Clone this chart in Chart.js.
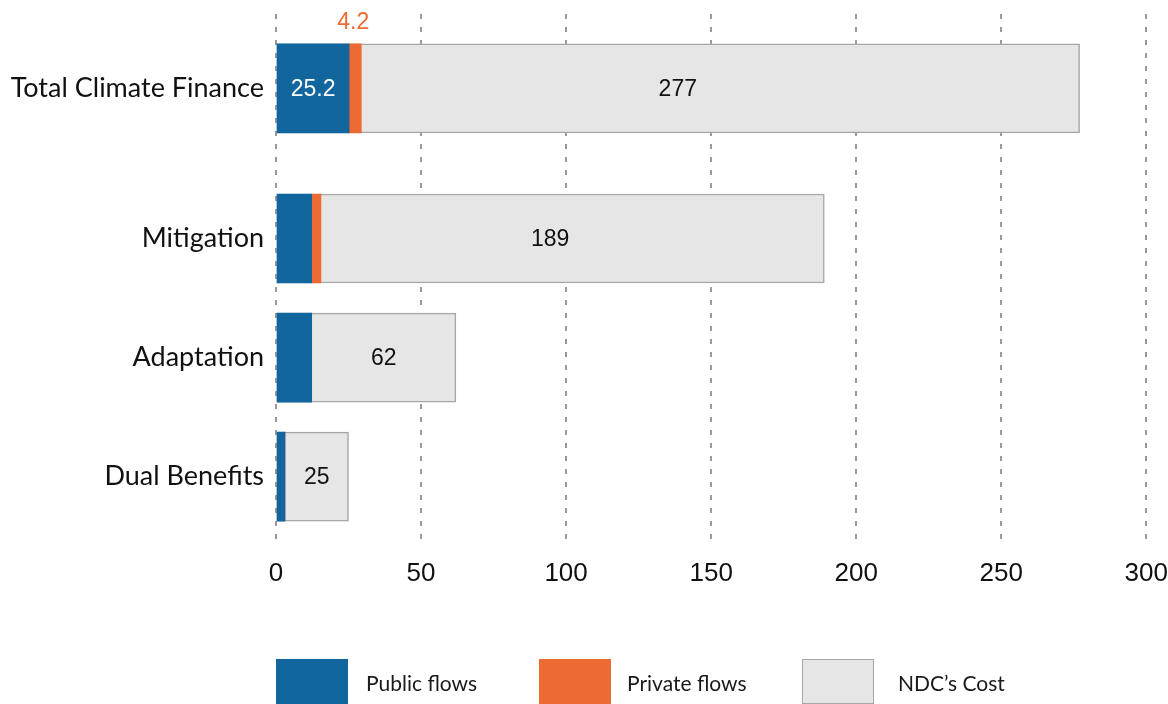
<!DOCTYPE html>
<html>
<head>
<meta charset="utf-8">
<script src="https://cdn.jsdelivr.net/npm/chart.js@4.4.1/dist/chart.umd.min.js"></script>
<style>
  html, body { margin: 0; padding: 0; background: #fff; }
  #wrap { position: relative; width: 1168px; height: 704px; overflow: hidden; }
  #chart { position: absolute; left: 0; top: 0; }
  .lg-box { position: absolute; top: 659px; width: 72px; height: 45px; box-sizing: border-box; }
  .lg-text { position: absolute; top: 670px; font-family: Lato, "Noto Sans", sans-serif; font-size: 21px; color: #1a1a1a; line-height: 26px; }
</style>
</head>
<body>
<div id="wrap">
  <canvas id="chart" width="1168" height="704"></canvas>
  <div class="lg-box" style="left:276px;background:#11669e"></div>
  <div class="lg-text" style="left:366px">Public flows</div>
  <div class="lg-box" style="left:539px;background:#ed6b33"></div>
  <div class="lg-text" style="left:627px">Private flows</div>
  <div class="lg-box" style="left:802px;background:#e6e6e6;border:1.5px solid #a6a6a6"></div>
  <div class="lg-text" style="left:898px">NDC’s Cost</div>
</div>
<script>
// data
const categories = ['Total Climate Finance', 'Mitigation', 'Adaptation', 'Dual Benefits'];
const publicFlows = [25.2, 12.3, 12.3, 3.1];
const privateFlows = [4.2, 3.2, 0, 0];
const ndcCost = [277, 189, 62, 25];
const showFlowLabels = [true, false, false, false];
const xTicks = [0, 50, 100, 150, 200, 250, 300];

// extra space between the total and the breakdown rows
const GROUP_GAP = 0.26;
const rowPos = categories.map((c, i) => i + (i > 0 ? GROUP_GAP : 0));

const BLUE = '#11669e', ORANGE = '#ed6b33', GREY = '#e6e6e6', GREY_BORDER = '#a6a6a6';
const NUM_FONT = '"Liberation Sans", Arial, sans-serif';

const toPoints = arr => arr.map((v, i) => ({ x: v, y: rowPos[i] }));

// value labels drawn over the bars
const valueLabels = {
    id: 'valueLabels',
    afterDatasetsDraw(chart) {
        const ctx = chart.ctx;
        const xs = chart.scales.x;
        const pub = chart.getDatasetMeta(0).data;
        const priv = chart.getDatasetMeta(1).data;
        const cost = chart.getDatasetMeta(2).data;
        ctx.save();
        ctx.font = '23px ' + NUM_FONT;
        ctx.textAlign = 'center';
        ctx.textBaseline = 'middle';
        categories.forEach((c, i) => {
            const bar = cost[i];
            const flowEnd = xs.getPixelForValue(publicFlows[i] + privateFlows[i]);
            const end = xs.getPixelForValue(ndcCost[i]);
            let cx = (xs.getPixelForValue(0) + end) / 2;
            if (cx - flowEnd < 60) cx = (flowEnd + end) / 2;
            ctx.fillStyle = '#111';
            ctx.fillText(String(ndcCost[i]), cx, bar.y + 1);
            if (showFlowLabels[i]) {
                const p = pub[i];
                ctx.fillStyle = '#fff';
                ctx.fillText(String(publicFlows[i]), (p.base + p.x) / 2, p.y + 1);
                const q = priv[i];
                ctx.fillStyle = ORANGE;
                ctx.fillText(String(privateFlows[i]), (q.base + q.x) / 2 - 2, q.y - q.height / 2 - 21);
            }
        });
        ctx.restore();
    }
};

new Chart(document.getElementById('chart'), {
    type: 'bar',
    data: {
        datasets: [
            { label: 'Public flows', data: toPoints(publicFlows), backgroundColor: BLUE, stack: 'flows' },
            { label: 'Private flows', data: toPoints(privateFlows), backgroundColor: ORANGE, stack: 'flows' },
            { label: 'NDC’s Cost', data: toPoints(ndcCost), backgroundColor: GREY, borderColor: GREY_BORDER,
              borderWidth: 1.5, borderSkipped: false, stack: 'cost' }
        ]
    },
    options: {
        indexAxis: 'y',
        responsive: false,
        animation: false,
        datasets: { bar: { grouped: false, barThickness: 89 } },
        layout: { padding: { top: 14, right: 0, bottom: 115, left: 0 } },
        plugins: { legend: { display: false }, tooltip: { enabled: false } },
        scales: {
            x: {
                type: 'linear', min: 0, max: 300, stacked: true,
                afterBuildTicks: s => { s.ticks = xTicks.map(v => ({ value: v })); },
                grid: { color: '#9a9a9a', lineWidth: 2, drawTicks: true, tickLength: 15, tickColor: 'rgba(0,0,0,0)' },
                border: { display: false, dash: [5, 8] },
                ticks: { padding: 0, color: '#111', font: { family: NUM_FONT, size: 26 } }
            },
            y: {
                type: 'linear', reverse: true, stacked: true, offset: false,
                min: -0.625, max: rowPos[rowPos.length - 1] + 0.555,
                afterBuildTicks: s => { s.ticks = rowPos.map(v => ({ value: v })); },
                afterFit: s => { s.width = 276; s.paddingTop = 0; s.paddingBottom = 0; },
                grid: { display: false, drawTicks: false },
                border: { display: false },
                ticks: {
                    padding: 12, color: '#111',
                    font: { family: 'Lato, "Noto Sans", sans-serif', size: 27 },
                    callback: v => categories[rowPos.indexOf(v)]
                }
            }
        }
    },
    plugins: [valueLabels]
});
</script>
</body>
</html>
